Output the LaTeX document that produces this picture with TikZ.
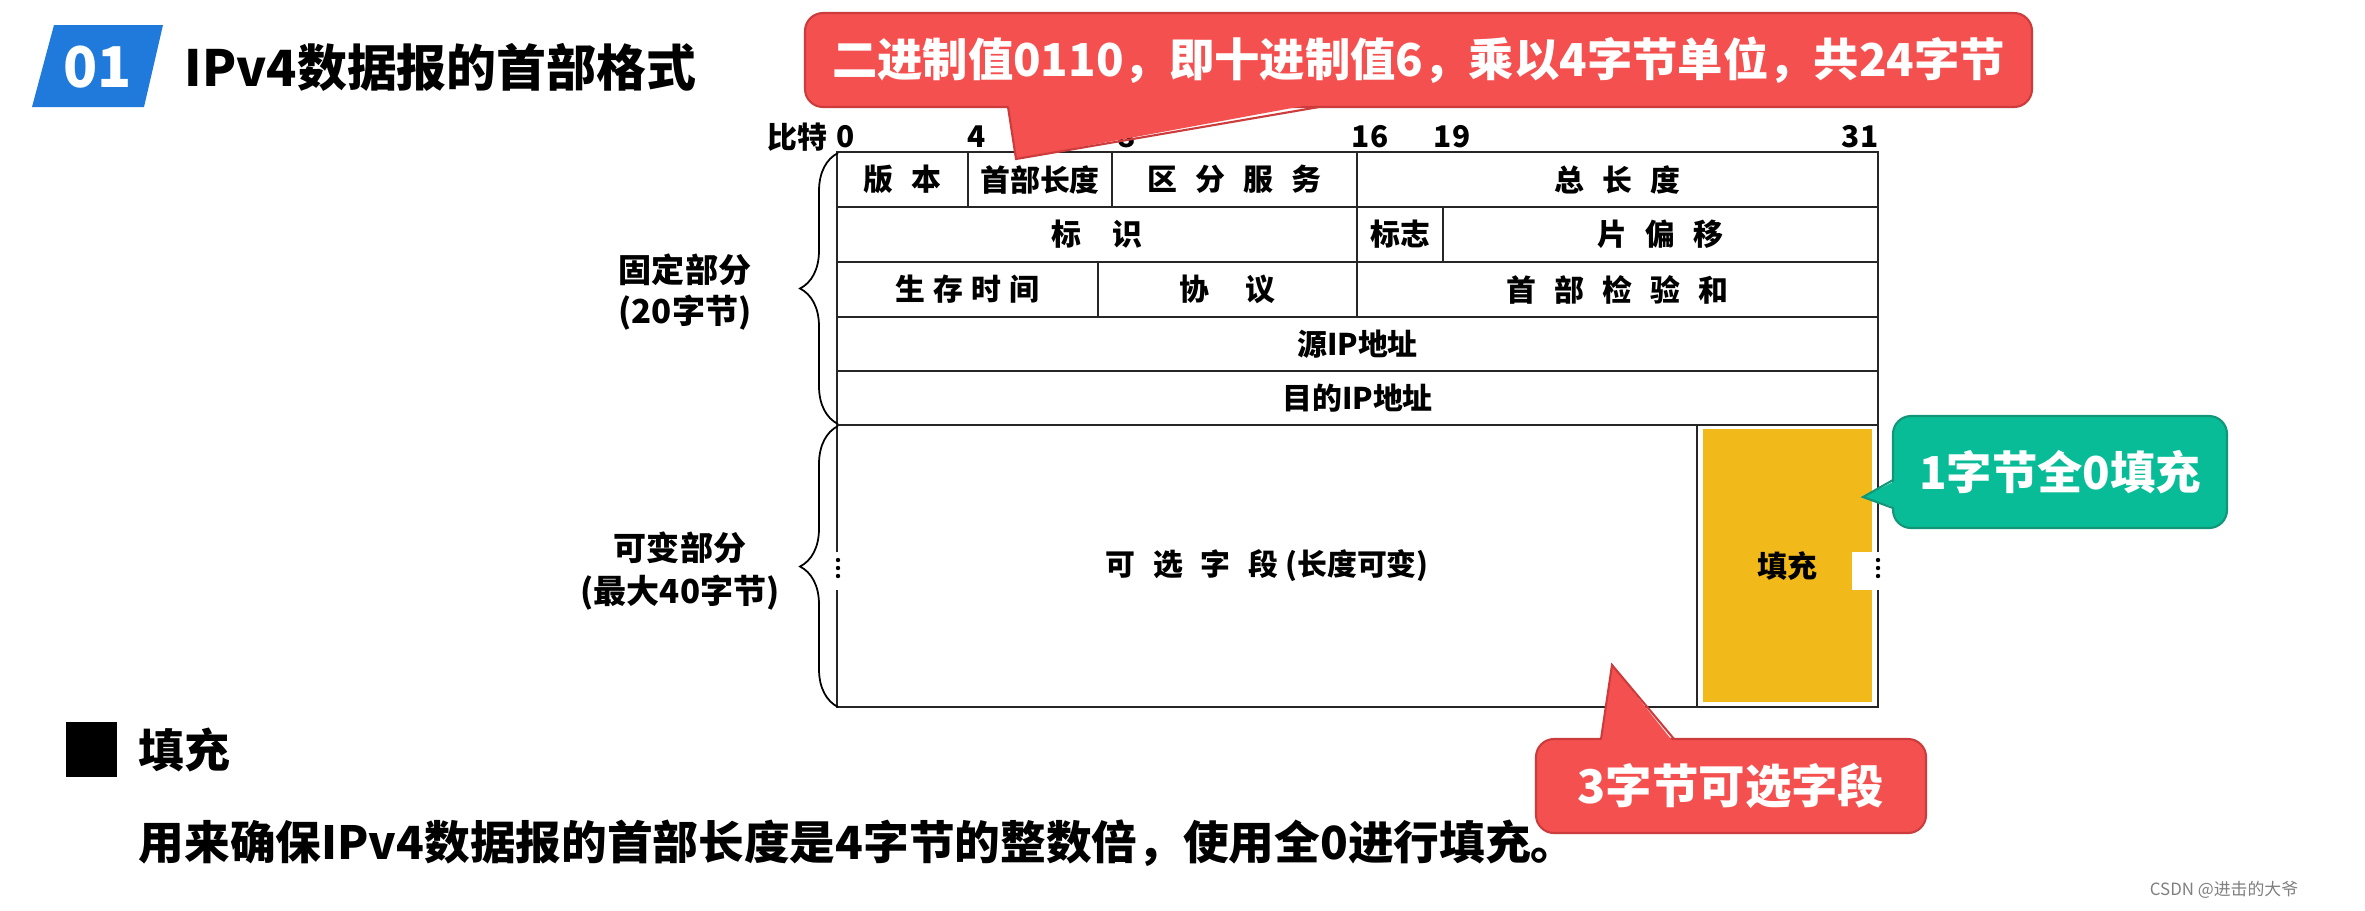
\documentclass[tikz,border=0pt]{standalone}
\usepackage{fontspec}
\setmainfont{Noto Sans CJK SC}
\usepackage{xcolor}
\definecolor{blue3}{RGB}{31,122,219}
\definecolor{red3}{RGB}{245,80,80}
\definecolor{red4}{RGB}{205,60,60}
\definecolor{teal3}{RGB}{8,188,152}
\definecolor{teal4}{RGB}{18,150,120}
\definecolor{yellow3}{RGB}{242,185,26}
\usepackage{tikz}
\usetikzlibrary{decorations.pathreplacing}
\newcommand{\fgap}{\hspace{0.6em}}

\begin{document}
\begin{tikzpicture}[x=0.1mm, y=-0.1mm,
  field/.style={draw=black!85, line width=0.6pt, inner sep=0pt,
    font=\fontsize{8.5}{10}\selectfont\bfseries},
  bitno/.style={inner sep=0pt, font=\fontsize{8.5}{10}\selectfont\bfseries},
  callout/.style={rounded corners=1.8mm, line width=0.6pt, inner sep=0pt,
    text=white, font=\fontsize{12.9}{15}\selectfont\bfseries},
  bignote/.style={anchor=west, inner sep=0pt, font=\fontsize{13}{16}\selectfont\bfseries}]

  % Canvas
  \useasboundingbox[fill=white] (0,0) rectangle (2365,910);

  % Title
  \fill[blue3] (54,25) -- (163,25) -- (144,107) -- (32,107) -- cycle;
  \node[text=white, font=\fontsize{16}{18}\selectfont\bfseries] (num) at (98,67) {01};
  \node[anchor=west, inner sep=0pt, font=\fontsize{14.2}{17}\selectfont\bfseries] (title) at (184,67) {IPv4数据报的首部格式};

  % Padding fill (under the cell)
  \fill[yellow3] (1703,429) rectangle (1872,702);

  % Fixed part of the header
  \node[field, minimum width=13.1mm, minimum height=5.5mm] (ver) at (902.5,179.5) {版\fgap 本};
  \node[field, minimum width=14.4mm, minimum height=5.5mm] (hlen) at (1040,179.5) {首部长度};
  \node[field, minimum width=24.5mm, minimum height=5.5mm] (tos) at (1234.5,179.5) {区\fgap 分\fgap 服\fgap 务};
  \node[field, minimum width=52.1mm, minimum height=5.5mm] (totlen) at (1617.5,179.5) {总\fgap 长\fgap 度};
  \node[field, minimum width=52mm, minimum height=5.5mm] (ident) at (1097,234.5) {标\hspace{1.05em}识};
  \node[field, minimum width=8.6mm, minimum height=5.5mm] (flags) at (1400,234.5) {标志};
  \node[field, minimum width=43.5mm, minimum height=5.5mm] (fragoff) at (1660.5,234.5) {片\fgap 偏\fgap 移};
  \node[field, minimum width=26.1mm, minimum height=5.5mm] (ttl) at (967.5,289.5) {生\hspace{0.27em}存\hspace{0.27em}时\hspace{0.27em}间};
  \node[field, minimum width=25.9mm, minimum height=5.5mm] (proto) at (1227.5,289.5) {协\hspace{1.2em}议};
  \node[field, minimum width=52.1mm, minimum height=5.5mm] (cksum) at (1617.5,289.5) {首\fgap 部\fgap 检\fgap 验\fgap 和};
  \node[field, minimum width=104.1mm, minimum height=5.4mm] (srcip) at (1357.5,344) {源IP地址};
  \node[field, minimum width=104.1mm, minimum height=5.4mm] (dstip) at (1357.5,398) {目的IP地址};

  % Variable part
  \node[field, minimum width=86mm, minimum height=28.2mm] (opts) at (1267,566) {可\fgap 选\fgap 字\fgap 段 (长度可变)};
  \node[field, minimum width=18.1mm, minimum height=28.2mm] (pad) at (1787.5,566) {填充};

  % Ellipsis marks on the side lines
  \fill[white] (818,552) rectangle (862,590);
  \fill[white] (1852,552) rectangle (1906,590);
  \fill (838,560) circle (0.22mm) (838,568) circle (0.22mm) (838,576) circle (0.22mm);
  \fill (1878,560) circle (0.22mm) (1878,568) circle (0.22mm) (1878,576) circle (0.22mm);

  % Braces and their labels
  \draw[decorate, decoration={brace, amplitude=3.8mm}, line width=0.5pt] (838,424) -- (838,153);
  \draw[decorate, decoration={brace, amplitude=3.8mm}, line width=0.5pt] (838,707) -- (838,426);
  \node[align=center, font=\fontsize{9.4}{11.4}\selectfont\bfseries] (fixed) at (685,292) {固定部分\\(20字节)};
  \node[align=center, font=\fontsize{9.4}{12}\selectfont\bfseries] (var) at (680,571) {可变部分\\(最大40字节)};

  % Bit numbers
  \node[bitno] (bits) at (797,137) {比特};
  \node[bitno] (b0) at (846,137) {0};
  \node[bitno] (b4) at (977,137) {4};
  \node[bitno] (b8) at (1127,137) {8};
  \node[bitno] (b16) at (1370,137) {16};
  \node[bitno] (b19) at (1452,137) {19};
  \node[bitno] (b31) at (1860,137) {31};

  % Note on the header length field
  \node[callout, fill=red3, draw=red4, minimum width=122.7mm, minimum height=9.4mm] (hlnote) at (1418.5,60) {二进制值0110，即十进制值6，乘以4字节单位，共24字节};
  \fill[red3] (1008,103) -- (1016,159) -- (1319,103) -- cycle;
  \draw[red4, line width=0.6pt] (1008,107) -- (1016,159) -- (1319,107);

  % Note on the padding
  \node[callout, fill=teal3, draw=teal4, minimum width=33.4mm, minimum height=11.2mm] (padnote) at (2060,472) {1字节全0填充};
  \fill[teal3] (1897,480) -- (1863,497) -- (1897,508) -- cycle;
  \draw[teal4, line width=0.6pt] (1893,480) -- (1863,497) -- (1893,508);

  % Note on the options
  \node[callout, fill=red3, draw=red4, minimum width=39mm, minimum height=9.4mm, font=\fontsize{13.2}{15}\selectfont\bfseries] (optnote) at (1731,786) {3字节可选字段};
  \fill[red3] (1601,743) -- (1612,665) -- (1674,743) -- cycle;
  \draw[red4, line width=0.6pt] (1601,739) -- (1612,665) -- (1674,739);

  % Explanation
  \fill (66,722) rectangle (117,777);
  \node[bignote] (padhead) at (138,750) {填充};
  \node[bignote] (padtext) at (138,843) {用来确保IPv4数据报的首部长度是4字节的整数倍，使用全0进行填充。};

  % Watermark
  \node[text=black!50, font=\fontsize{4.8}{6}\selectfont] (mark) at (2224,890) {CSDN @进击的大爷};
\end{tikzpicture}
\end{document}
